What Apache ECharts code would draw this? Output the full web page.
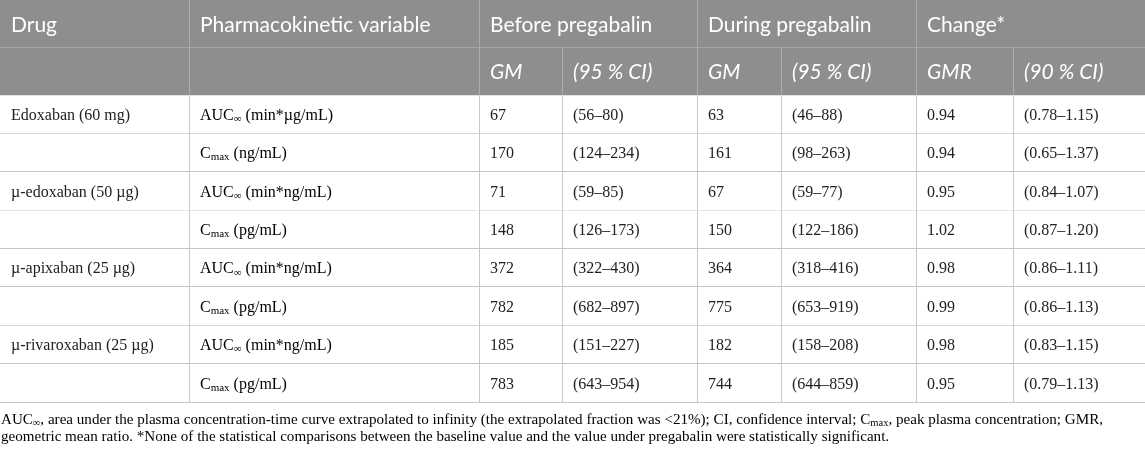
<!DOCTYPE html>
<html>
<head>
<meta charset="utf-8">
<script src="https://cdn.jsdelivr.net/npm/echarts@6/dist/echarts.min.js"></script>
<style>
  html, body { margin: 0; padding: 0; background: #fff; }
  #main { width: 1145px; height: 449px; }
</style>
</head>
<body>
<div id="main"></div>
<script>
// table content
var headTop = ['Drug', 'Pharmacokinetic variable', 'Before pregabalin', 'During pregabalin', 'Change*'];
var headSub = ['', '', 'GM', '(95 % CI)', 'GM', '(95 % CI)', 'GMR', '(90 % CI)'];
var drugs = ['Edoxaban (60 mg)', '', 'µ-edoxaban (50 µg)', '', 'µ-apixaban (25 µg)', '', 'µ-rivaroxaban (25 µg)', ''];
var pkBase = ['AUC', 'C', 'AUC', 'C', 'AUC', 'C', 'AUC', 'C'];
var pkSub = ['∞', 'max', '∞', 'max', '∞', 'max', '∞', 'max'];
var pkUnit = [' (min*µg/mL)', ' (ng/mL)', ' (min*ng/mL)', ' (pg/mL)', ' (min*ng/mL)', ' (pg/mL)', ' (min*ng/mL)', ' (pg/mL)'];
var beforeGM = [67, 170, 71, 148, 372, 782, 185, 783];
var beforeCI = ['(56–80)', '(124–234)', '(59–85)', '(126–173)', '(322–430)', '(682–897)', '(151–227)', '(643–954)'];
var duringGM = [63, 161, 67, 150, 364, 775, 182, 744];
var duringCI = ['(46–88)', '(98–263)', '(59–77)', '(122–186)', '(318–416)', '(653–919)', '(158–208)', '(644–859)'];
var gmr = ['0.94', '0.94', '0.95', '1.02', '0.98', '0.99', '0.98', '0.95'];
var gmrCI = ['(0.78–1.15)', '(0.65–1.37)', '(0.84–1.07)', '(0.87–1.20)', '(0.86–1.11)', '(0.86–1.13)', '(0.83–1.15)', '(0.79–1.13)'];
var footLines = [
  '{n|AUC}{s|∞}{n|, area under the plasma concentration-time curve extrapolated to infinity (the extrapolated fraction was <21%); CI, confidence interval; C}{s|max}{n|, peak plasma concentration; GMR,}',
  '{n|geometric mean ratio. *None of the statistical comparisons between the baseline value and the value under pregabalin were statistically significant.}'
];

// layout (pixels of the 1145x449 canvas)
var W = 1145, H = 449;
var colEdges = [0, 189, 479, 562, 697, 781, 916, 1013, 1145];
var headH = 47.7, rowH = 38.4, headBottom = 95.4;
var footY = [419, 436.5];
var PAD = 11;
var HEAD_BG = '#8e8e8e', HEAD_LINE = '#acacac', BODY_LINE = '#c6c6c6';

var cells = [];
function addCell(c0, c1, r0, r1, text, kind, opts) {
  cells.push(Object.assign({ c0: c0, c1: c1, y0: r0, y1: r1, text: text, kind: kind }, opts || {}));
}
// header row 1 (spans)
var spans = [[0, 1], [1, 2], [2, 4], [4, 6], [6, 8]];
headTop.forEach(function (t, i) {
  addCell(spans[i][0], spans[i][1], 0, headH, t, 'head');
});
headSub.forEach(function (t, i) {
  addCell(i, i + 1, headH, headBottom, t, 'headSub');
});
drugs.forEach(function (d, r) {
  var y0 = headBottom + r * rowH, y1 = y0 + rowH;
  var rowVals = [
    d,
    '{n|' + pkBase[r] + '}{s|' + pkSub[r] + '}{n|' + pkUnit[r] + '}',
    String(beforeGM[r]), beforeCI[r],
    String(duringGM[r]), duringCI[r],
    gmr[r], gmrCI[r]
  ];
  rowVals.forEach(function (v, c) {
    addCell(c, c + 1, y0, y1, v, 'body', { rich: c === 1 });
  });
});
footLines.forEach(function (t, i) {
  addCell(0, 8, footY[i] - 9, footY[i] + 9, t, 'foot', { rich: true });
});

var bodyRich = {
  n: { fontFamily: 'Liberation Serif', fontSize: 16, color: '#222' },
  s: { fontFamily: 'Liberation Serif', fontSize: 11, color: '#222', verticalAlign: 'bottom', padding: [7, 0, 0, 0] }
};
var footRich = {
  n: { fontFamily: 'Liberation Serif', fontSize: 15.1, color: '#222' },
  s: { fontFamily: 'Liberation Serif', fontSize: 10.5, color: '#222', verticalAlign: 'bottom', padding: [7, 0, 0, 0] }
};

function renderItem(params, api) {
  var c = cells[params.dataIndex];
  var p0 = api.coord([api.value(0), api.value(2)]);
  var p1 = api.coord([api.value(1), api.value(3)]);
  var x0 = p0[0], y0 = p0[1], x1 = p1[0], y1 = p1[1];
  var ch = [];
  var isHead = c.kind === 'head' || c.kind === 'headSub';
  if (c.kind !== 'foot') {
    ch.push({ type: 'rect', silent: true, shape: { x: x0, y: y0, width: x1 - x0, height: y1 - y0 },
      style: { fill: isHead ? HEAD_BG : '#fff' } });
    var lc = isHead ? HEAD_LINE : BODY_LINE;
    if (c.c0 > 0) {
      ch.push({ type: 'line', silent: true, shape: { x1: Math.round(x0) + 0.5, y1: y0, x2: Math.round(x0) + 0.5, y2: y1 },
        style: { stroke: lc, lineWidth: 1 } });
    }
    if (c.kind !== 'headSub') {
      ch.push({ type: 'line', silent: true, shape: { x1: x0, y1: Math.round(y1) - 0.5, x2: x1, y2: Math.round(y1) - 0.5 },
        style: { stroke: lc, lineWidth: 1 } });
    }
  }
  var ts;
  if (isHead) {
    ts = { text: c.text, fill: '#fff', fontFamily: 'Lato', fontSize: 21,
      fontStyle: c.kind === 'headSub' ? 'italic' : 'normal' };
  } else if (c.kind === 'foot') {
    ts = { text: c.text, rich: footRich };
  } else if (c.rich) {
    ts = { text: c.text, rich: bodyRich };
  } else {
    ts = { text: c.text, fill: '#222', fontFamily: 'Liberation Serif', fontSize: 16 };
  }
  ts.x = c.kind === 'foot' ? x0 + 1 : x0 + PAD;
  ts.y = (y0 + y1) / 2 + 1;
  ts.align = 'left';
  ts.verticalAlign = 'middle';
  ch.push({ type: 'text', silent: true, style: ts });
  return { type: 'group', children: ch };
}

var chart = echarts.init(document.getElementById('main'), null, { renderer: 'canvas' });
chart.setOption({
  animation: false,
  grid: { left: 0, right: 0, top: 0, bottom: 0 },
  xAxis: { type: 'value', min: 0, max: W, show: false },
  yAxis: { type: 'value', min: 0, max: H, inverse: true, show: false },
  series: [{
    type: 'custom',
    renderItem: renderItem,
    clip: false,
    data: cells.map(function (c) {
      return [colEdges[c.c0], colEdges[c.c1], c.y0, c.y1];
    })
  }]
});
</script>
</body>
</html>
